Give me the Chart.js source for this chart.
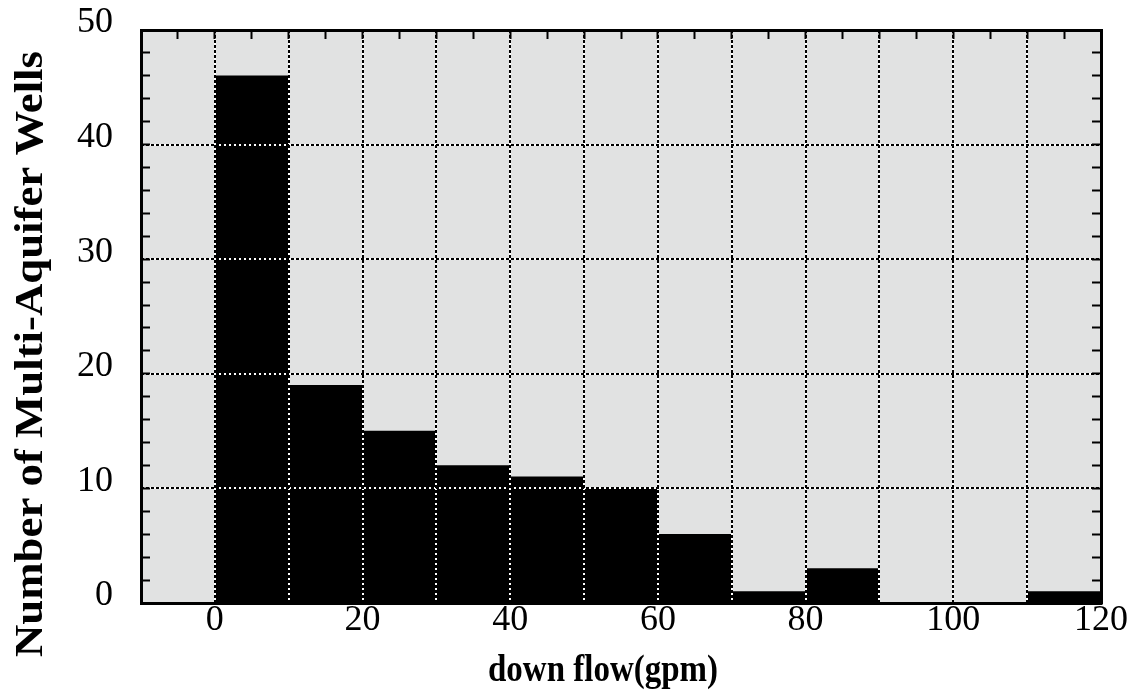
<!DOCTYPE html>
<html>
<head>
<meta charset="utf-8">
<title>down flow histogram</title>
<script src="https://cdn.jsdelivr.net/npm/chart.js@4"></script>
<style>
	html, body { margin: 0; padding: 0; background: #ffffff; }
	#wrap { width: 1132px; height: 692px; }
</style>
</head>
<body>
<div id="wrap"><canvas id="downFlow"></canvas></div>
<script>
// histogram bins (gpm) and counts
const binStarts = [0, 10, 20, 30, 40, 50, 60, 70, 80, 90, 100, 110];
const binWidth = 10;
const wellCounts = [46, 19, 15, 12, 11, 10, 6, 1, 3, 0, 0, 1];
const xTickLabels = [0, 20, 40, 60, 80, 100, 120];
const yTickLabels = [0, 10, 20, 30, 40, 50];
const xTitle = "down flow(gpm)";
const yTitle = "Number of Multi-Aquifer Wells";

const serif = "'Liberation Serif', 'Times New Roman', serif";
const plotBg = "#e1e2e2";
const xMin = -10, xMax = 120, yMin = 0, yMax = 50;

// force axis thickness and drop label overflow padding
function fixSize(size) {
	return function (scale) {
		if (scale.isHorizontal()) scale.height = size;
		else scale.width = size;
		scale.paddingTop = 0;
		scale.paddingBottom = 0;
		scale.paddingLeft = 0;
		scale.paddingRight = 0;
	};
}

function useTicks(values) {
	return function (scale) {
		scale.ticks = values.map(v => ({ value: v }));
	};
}

// dotted grid lines (white under, black dashes over)
function gridAxis(axis, position, step, color, dash, z) {
	return {
		type: "linear", axis: axis, position: position, weight: 0,
		min: axis === "x" ? xMin : yMin,
		max: axis === "x" ? xMax : yMax,
		offset: false,
		ticks: { display: false, stepSize: step },
		grid: { color: color, lineWidth: 2, drawTicks: false, offset: false, z: z },
		border: { display: false, dash: dash },
		afterFit: fixSize(0),
	};
}

// short inward tick marks
function minorAxis(axis, position, step) {
	return {
		type: "linear", axis: axis, position: position, weight: 0,
		min: axis === "x" ? xMin : yMin,
		max: axis === "x" ? xMax : yMax,
		offset: false,
		ticks: { display: false, stepSize: step },
		grid: { drawOnChartArea: false, drawTicks: true, offset: false, tickLength: -9, tickWidth: 2, tickColor: "#000", z: 3 },
		border: { display: position === "top" || position === "right", width: 3, color: "#000", z: 3 },
		afterFit: fixSize(0),
	};
}

const bgPlugin = {
	id: "plotBg",
	beforeDraw(chart) {
		const a = chart.chartArea, ctx = chart.ctx;
		ctx.save();
		ctx.fillStyle = plotBg;
		ctx.fillRect(a.left, a.top, a.right - a.left, a.bottom - a.top);
		ctx.restore();
	},
};

const titlePlugin = {
	id: "axisTitles",
	afterDraw(chart) {
		const ctx = chart.ctx;
		ctx.save();
		ctx.fillStyle = "#000";
		ctx.textAlign = "center";
		ctx.textBaseline = "alphabetic";
		// y title
		ctx.save();
		ctx.translate(42, 354);
		ctx.rotate(-Math.PI / 2);
		ctx.scale(1.12, 1);
		ctx.font = "bold 40px " + serif;
		ctx.fillText(yTitle, 0, 0);
		ctx.restore();
		// x title
		ctx.save();
		ctx.translate(603, 681);
		ctx.scale(1, 1.12);
		ctx.font = "bold 33px " + serif;
		ctx.fillText(xTitle, 0, 0);
		ctx.restore();
		ctx.restore();
	},
};

new Chart(document.getElementById("downFlow"), {
	type: "bar",
	data: {
		datasets: [
			{
				label: "wells",
				data: binStarts.map((s, i) => ({ x: s + binWidth / 2, y: wellCounts[i] })),
				backgroundColor: "#000",
				borderWidth: 0,
				barPercentage: 1,
				categoryPercentage: 1,
			},
		],
	},
	options: {
		responsive: true,
		maintainAspectRatio: false,
		animation: false,
		layout: { padding: { left: 0, top: 30, right: 31, bottom: 0 } },
		plugins: {
			legend: { display: false },
			tooltip: { enabled: false },
		},
		scales: {
			x: {
				type: "linear", position: "bottom", weight: 1,
				min: xMin, max: xMax, offset: false,
				afterBuildTicks: useTicks(xTickLabels),
				ticks: { color: "#000", padding: -12, font: { family: serif, size: 36 } },
				grid: { display: false, offset: false },
				border: { display: true, width: 3, color: "#000", z: 3 },
				afterFit: fixSize(89),
			},
			y: {
				type: "linear", position: "left", weight: 1,
				min: yMin, max: yMax,
				afterBuildTicks: useTicks(yTickLabels),
				ticks: { color: "#000", padding: 20, labelOffset: -7, font: { family: serif, size: 36 } },
				grid: { display: false },
				border: { display: true, width: 3, color: "#000", z: 3 },
				afterFit: fixSize(141),
			},
			xGridW: gridAxis("x", "bottom", 10, "#ffffff", [], 1),
			xGridK: gridAxis("x", "bottom", 10, "#000000", [3, 2], 2),
			yGridW: gridAxis("y", "left", 10, "#ffffff", [], 1),
			yGridK: gridAxis("y", "left", 10, "#000000", [3, 2], 2),
			xMinorT: minorAxis("x", "top", 5),
			yMinorL: minorAxis("y", "left", 2),
			yMinorR: minorAxis("y", "right", 2),
		},
	},
	plugins: [bgPlugin, titlePlugin],
});
</script>
</body>
</html>
